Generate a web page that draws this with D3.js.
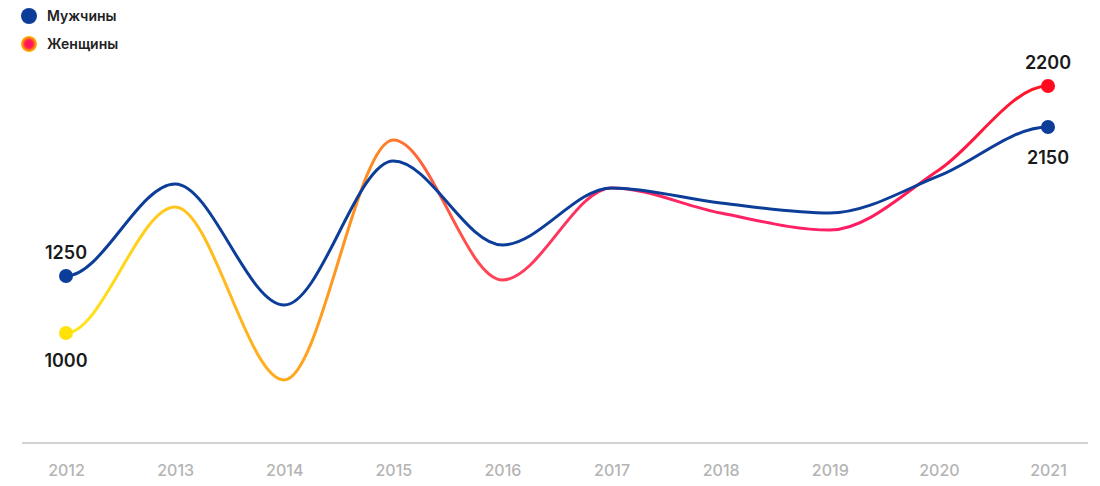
<!DOCTYPE html>
<html><head><meta charset="utf-8">
<script src="https://cdn.jsdelivr.net/npm/d3@7"></script>
<style>
html,body{margin:0;padding:0;background:#fff;}
svg{display:block;font-family:Inter,"Noto Sans",sans-serif;}
</style></head>
<body><svg id="chart" width="1100" height="486"></svg>
<script>
const years = ["2012","2013","2014","2015","2016","2017","2018","2019","2020","2021"];
const men   = [1277,1724,1136,1836,1428,1705,1632,1583,1763,2001];
const women = [1000,1612,772,1938,1258,1705,1583,1500,1792,2200];
const seriesNames = ["Мужчины","Женщины"];
const menEndLabels = ["1250","2150"];
const womenEndLabels = ["1000","2200"];

const svg = d3.select("#chart");
const x = d3.scalePoint().domain(years).range([66,1048]);
const y = d3.scaleLinear().domain([1000,2200]).range([333,86]);

// custom Hermite curve: monotone interior tangents, flat endpoints
function FlatEnds(context){ this._context = context; }
FlatEnds.prototype = {
  areaStart(){}, areaEnd(){},
  lineStart(){ this._p = []; },
  point(px,py){ this._p.push([+px,+py]); },
  lineEnd(){
    const p = this._p, n = p.length, c = this._context;
    if(!n) return;
    const t = new Array(n).fill(0);
    for(let i=1;i<n-1;i++){
      const h0 = p[i][0]-p[i-1][0], h1 = p[i+1][0]-p[i][0];
      const s0 = (p[i][1]-p[i-1][1])/h0, s1 = (p[i+1][1]-p[i][1])/h1;
      const q = (s0*h1 + s1*h0)/(h0+h1);
      t[i] = (Math.sign(s0)+Math.sign(s1)) * Math.min(Math.abs(s0),Math.abs(s1),0.5*Math.abs(q)) || 0;
    }
    c.moveTo(p[0][0],p[0][1]);
    for(let i=1;i<n;i++){
      const h = (p[i][0]-p[i-1][0])/3;
      c.bezierCurveTo(p[i-1][0]+h, p[i-1][1]+t[i-1]*h, p[i][0]-h, p[i][1]-t[i]*h, p[i][0], p[i][1]);
    }
  }
};
const flatEnds = ctx => new FlatEnds(ctx);

const defs = svg.append("defs");
const grad = defs.append("linearGradient").attr("id","wgrad")
  .attr("gradientUnits","userSpaceOnUse")
  .attr("x1",x("2012")).attr("x2",x("2021")).attr("y1",0).attr("y2",0);
[[0,"#FFE817"],[0.11,"#FFC61C"],[0.24,"#FFA41C"],[0.31,"#FF8A22"],[0.37,"#FF5E3E"],[0.45,"#FF3F5C"],[0.55,"#FF2A62"],[0.8,"#FF1E66"],[0.9,"#FF1A4A"],[1,"#FF1422"]]
  .forEach(([o,c])=>grad.append("stop").attr("offset",o).attr("stop-color",c));
const rg = defs.append("radialGradient").attr("id","legw");
[[0,"#FF0A6A"],[0.5,"#FF2050"],[0.8,"#FF8A10"],[1,"#FFC000"]]
  .forEach(([o,c])=>rg.append("stop").attr("offset",o).attr("stop-color",c));

// axis
const axis = d3.axisBottom(x).tickSize(0).tickPadding(20);
const ax = svg.append("g").attr("transform","translate(0,443)").call(axis);
ax.select(".domain").remove();
ax.selectAll("text").attr("fill","#b4b4b4").attr("font-size",16).attr("font-weight",500)
  .attr("font-family","Inter,'Noto Sans',sans-serif").attr("dy","0.7em").attr("y",22);
svg.append("line").attr("x1",22).attr("x2",1088).attr("y1",443).attr("y2",443)
  .attr("stroke","#c4c4c4").attr("stroke-width",1.5);

const line = d3.line().x((d,i)=>x(years[i])).y(d=>y(d)).curve(flatEnds);

svg.append("path").datum(women).attr("d",line).attr("fill","none")
  .attr("stroke","url(#wgrad)").attr("stroke-width",3);
svg.append("path").datum(men).attr("d",line).attr("fill","none")
  .attr("stroke","#0c3d99").attr("stroke-width",3);

// end dots
const last = years.length-1;
svg.append("circle").attr("cx",x(years[0])).attr("cy",y(women[0])).attr("r",7).attr("fill","#FFE20A");
svg.append("circle").attr("cx",x(years[last])).attr("cy",y(women[last])).attr("r",7).attr("fill","#FF0A1E");
svg.append("circle").attr("cx",x(years[0])).attr("cy",y(men[0])).attr("r",7).attr("fill","#0c3d99");
svg.append("circle").attr("cx",x(years[last])).attr("cy",y(men[last])).attr("r",7).attr("fill","#0c3d99");

// end labels
const lab = (tx,xx,yy)=>svg.append("text").attr("x",xx).attr("y",yy).attr("text-anchor","middle")
  .attr("font-size",18).attr("font-weight",600).attr("fill","#1a1a1a").text(tx);
lab(menEndLabels[0], x(years[0]), y(men[0])-17);
lab(womenEndLabels[0], x(years[0]), y(women[0])+34);
lab(womenEndLabels[1], x(years[last]), y(women[last])-17);
lab(menEndLabels[1], x(years[last]), y(men[last])+37);

// legend
const leg = svg.append("g");
leg.append("circle").attr("cx",29).attr("cy",16).attr("r",8).attr("fill","#0c3d99");
leg.append("circle").attr("cx",29).attr("cy",44).attr("r",8).attr("fill","url(#legw)");
leg.append("text").attr("x",47).attr("y",21).attr("font-size",14).attr("font-weight",600).attr("fill","#222").text(seriesNames[0]);
leg.append("text").attr("x",47).attr("y",49).attr("font-size",14).attr("font-weight",600).attr("fill","#222").text(seriesNames[1]);
</script></body></html>
